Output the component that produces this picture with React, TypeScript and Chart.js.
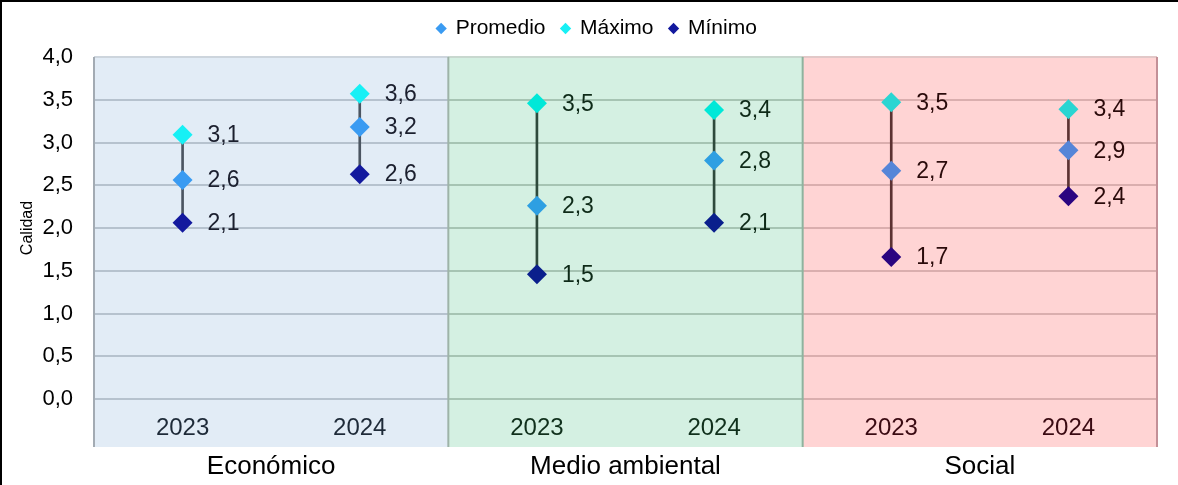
import React, { useEffect, useRef } from 'react';
import { Chart, registerables } from 'chart.js';

Chart.register(...registerables);

// ---- data ----
const categories = ['2023', '2024', '2023', '2024', '2023', '2024'];
const groups = ['Económico', 'Medio ambiental', 'Social'];
const promedio = [2.56, 3.18, 2.26, 2.79, 2.67, 2.91];
const maximo = [3.09, 3.57, 3.46, 3.38, 3.47, 3.39];
const minimo = [2.06, 2.63, 1.46, 2.06, 1.66, 2.37];
const seriesNames = ['Promedio', 'Máximo', 'Mínimo'];
const yTitle = 'Calidad';

// ---- styles ----
const FONT = "'Liberation Sans', Arial, sans-serif";
const panelBg = ['#E2ECF6', '#D4F0E2', '#FFD4D4'];
const panelGrid = ['#B6C2CE', '#A6C4B3', '#DAAEAE'];
const panelTop = ['#CDD5DD', '#C8D8CF', '#E2C8C8'];
const panelEdge = ['#A3ABB3', '#9EB3A8', '#8FB39E', '#C39097'];
const panelLine = ['#4B5561', '#2E4A3C', '#5C3232'];
const panelText = ['#1B1F2E', '#0E2A18', '#2A0A0A'];
const panelTick = ['#1E2A38', '#10301C', '#3A0A12'];
const promColors = ['#3A9BF2', '#2E9FE2', '#5585D8'];
const maxColors = ['#17F0F5', '#00E8D8', '#2AD5D2'];
const minColors = ['#13199E', '#0A1F8C', '#2A0580'];

const perPoint = (arr: string[]) => categories.map((_, i) => arr[Math.floor(i / 2)]);
const fmt = (v: number) => v.toFixed(1).replace('.', ',');

const panelsPlugin = {
  id: 'panels',
  beforeDraw(chart: any) {
    const { ctx, chartArea, scales } = chart;
    const x = scales.x;
    const y = scales.y;
    const top = chartArea.top;
    const bottom = x.bottom;
    ctx.save();
    for (let k = 0; k < groups.length; k++) {
      const l = x.getPixelForValue(2 * k - 0.5);
      const r = x.getPixelForValue(2 * k + 1.5);
      ctx.fillStyle = panelBg[k];
      ctx.fillRect(l, top, r - l, bottom - top);
      ctx.strokeStyle = panelGrid[k];
      ctx.lineWidth = 2;
      y.ticks.forEach((t: any) => {
        const py = Math.round(y.getPixelForValue(t.value));
        ctx.beginPath();
        ctx.moveTo(l, py);
        ctx.lineTo(r, py);
        ctx.stroke();
      });
      ctx.strokeStyle = panelTop[k];
      ctx.beginPath();
      ctx.moveTo(l, top);
      ctx.lineTo(r, top);
      ctx.stroke();
    }
    for (let k = 0; k <= groups.length; k++) {
      const px = x.getPixelForValue(2 * k - 0.5);
      ctx.strokeStyle = panelEdge[k];
      ctx.lineWidth = 2;
      ctx.beginPath();
      ctx.moveTo(px, top);
      ctx.lineTo(px, bottom);
      ctx.stroke();
    }
    ctx.restore();
  },
};

const labelsPlugin = {
  id: 'valueLabels',
  afterDatasetsDraw(chart: any) {
    const { ctx } = chart;
    ctx.save();
    ctx.font = `23px ${FONT}`;
    ctx.textAlign = 'left';
    ctx.textBaseline = 'middle';
    [0, 1, 2].forEach((di) => {
      const meta = chart.getDatasetMeta(di);
      const data = chart.data.datasets[di].data as number[];
      meta.data.forEach((pt: any, i: number) => {
        ctx.fillStyle = panelText[Math.floor(i / 2)];
        ctx.fillText(fmt(data[i]), pt.x + 25, pt.y + 1);
      });
    });
    ctx.restore();
  },
};

const legendSpacer = {
  id: 'legendSpacer',
  beforeLayout(chart: any) {
    const lg = chart.legend;
    if (lg && !lg.__patched) {
      const orig = lg.fit.bind(lg);
      lg.fit = function () {
        orig();
        this.height += 8;
      };
      lg.__patched = true;
    }
  },
};

const borderPlugin = {
  id: 'outerBorder',
  afterDraw(chart: any) {
    const { ctx, width } = chart;
    ctx.save();
    ctx.fillStyle = '#000';
    ctx.fillRect(0, 0, width, 2);
    ctx.fillRect(0, 0, 2, chart.height);
    ctx.restore();
  },
};

export default function App() {
  const ref = useRef<HTMLCanvasElement>(null);

  useEffect(() => {
    document.body.style.margin = '0';
    const canvas = ref.current;
    if (!canvas) return;
    const pointDs = (label: string, data: number[], colors: string[]) => ({
      type: 'line' as const,
      label,
      data,
      showLine: false,
      pointStyle: 'rectRot',
      pointRadius: 10,
      pointHoverRadius: 10,
      pointBorderWidth: 0,
      pointBackgroundColor: perPoint(colors),
      backgroundColor: perPoint(colors),
      borderColor: perPoint(colors),
      borderWidth: 0,
      order: 1,
    });
    const chart = new Chart(canvas, {
      type: 'line',
      data: {
        labels: categories,
        datasets: [
          pointDs(seriesNames[0], promedio, promColors),
          pointDs(seriesNames[1], maximo, maxColors),
          pointDs(seriesNames[2], minimo, minColors),
          {
            type: 'bar' as const,
            label: 'range',
            data: categories.map((_, i) => [minimo[i], maximo[i]]) as any,
            backgroundColor: perPoint(panelLine),
            borderWidth: 0,
            barThickness: 2,
            order: 10,
          } as any,
        ],
      },
      options: {
        animation: false,
        responsive: false,
        events: [],
        layout: { padding: { left: 37, right: 21, top: 2, bottom: 0 } },
        plugins: {
          tooltip: { enabled: false },
          legend: {
            position: 'top',
            labels: {
              usePointStyle: true,
              boxWidth: 8,
              boxHeight: 8,
              padding: 16,
              color: '#000',
              font: { family: FONT, size: 21 },
              filter: (item: any) => item.datasetIndex < 3,
            },
          },
        },
        scales: {
          x: {
            type: 'category',
            offset: true,
            weight: 0,
            grid: { display: false, drawTicks: false },
            border: { display: false },
            ticks: {
              padding: 15,
              autoSkip: false,
              maxRotation: 0,
              font: { family: FONT, size: 24 },
              color: (c: any) => panelTick[Math.floor(c.index / 2)],
            },
            afterFit: (s: any) => { s.height = 48; },
          },
          x2: {
            type: 'category',
            labels: groups,
            position: 'bottom',
            offset: true,
            weight: 1,
            grid: { display: false, drawTicks: false },
            border: { display: false },
            ticks: {
              padding: 4,
              autoSkip: false,
              maxRotation: 0,
              font: { family: FONT, size: 26 },
              color: '#000',
            },
            afterFit: (s: any) => { s.height = 38; },
          },
          y: {
            min: 0,
            max: 4,
            grid: { display: false, drawTicks: false },
            border: { display: false },
            ticks: {
              stepSize: 0.5,
              padding: 21,
              font: { family: FONT, size: 22 },
              color: '#000',
              callback: (v: any) => fmt(Number(v)),
            },
            title: {
              display: true,
              text: yTitle,
              color: '#000',
              font: { family: FONT, size: 16 },
              padding: { top: -18.6, bottom: 0 },
            },
            afterFit: (s: any) => { s.width = 57; },
          },
        },
      } as any,
      plugins: [legendSpacer, panelsPlugin, labelsPlugin, borderPlugin],
    });
    return () => chart.destroy();
  }, []);

  return (
    <div style={{ width: 1178, height: 485, position: 'relative', background: '#fff' }}>
      <canvas ref={ref} width={1178} height={485} style={{ display: 'block' }} />
    </div>
  );
}
